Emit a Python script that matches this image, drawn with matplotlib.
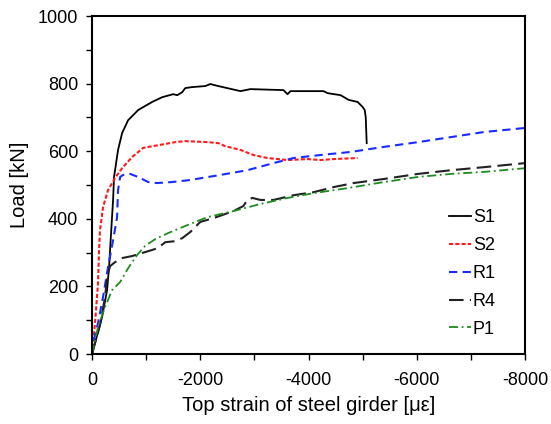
import matplotlib
matplotlib.use("Agg")
import matplotlib.pyplot as plt
from matplotlib.ticker import MultipleLocator

plt.rcParams['font.family'] = ['Liberation Sans', 'DejaVu Sans']
plt.rcParams['axes.unicode_minus'] = False

# strain [micro-strain], load [kN]
s1_strain = [0, -185, -278, -315, -352, -389, -407, -481, -556, -667, -852, -1111, -1296,
             -1500, -1574, -1667, -1722, -1852, -2093, -2185, -2333, -2741, -2926, -3537,
             -3611, -3667, -4278, -4352, -4593, -4741, -4907, -5000, -5037, -5056, -5074]
s1_load = [0, 109, 189, 257, 358, 456, 524, 604, 654, 692, 722, 746, 760,
           769, 766, 775, 787, 790, 793, 799, 793, 778, 784, 781,
           769, 778, 778, 772, 766, 752, 746, 731, 722, 701, 624]

s2_strain = [0, -56, -111, -130, -148, -204, -296, -426, -556, -741, -944, -1222, -1537,
             -1722, -2148, -2333, -2463, -2741, -2982, -3241, -3611, -3982, -4222, -4463, -4907]
s2_load = [0, 92, 210, 308, 367, 435, 485, 521, 550, 583, 610, 618, 627,
           630, 627, 624, 615, 604, 589, 580, 574, 577, 574, 577, 580]

r1_strain = [0, -19, -111, -204, -296, -389, -463, -481, -519, -574, -704, -852, -1037,
             -1204, -1482, -1815, -2370, -2870, -3352, -3722, -4222, -4778, -5389, -6019,
             -6630, -7241, -8000]
r1_load = [0, 33, 92, 169, 257, 337, 405, 485, 524, 530, 533, 524, 509,
           506, 509, 515, 530, 544, 565, 580, 589, 598, 613, 627,
           642, 657, 669]

r4_strain = [0, -148, -241, -278, -333, -426, -556, -741, -926, -1111, -1222, -1352, -1537,
             -1667, -1815, -2000, -2241, -2611, -2796, -2870, -2963, -3111, -3352, -3722,
             -4093, -4463, -4833, -5389, -6019, -6630, -7241, -8000]
r4_load = [0, 86, 169, 228, 260, 272, 284, 290, 299, 308, 314, 331, 334,
           343, 361, 391, 402, 423, 438, 456, 462, 456, 456, 470,
           479, 494, 506, 518, 533, 544, 553, 565]

p1_strain = [0, -111, -241, -370, -519, -667, -833, -981, -1167, -1407, -1722, -2130,
             -2611, -3111, -3611, -4093, -4722, -5278, -6019, -6630, -7241, -8000]
p1_load = [0, 80, 139, 189, 213, 254, 293, 320, 340, 358, 379, 405,
           423, 444, 462, 476, 491, 506, 524, 533, 539, 550]

fig = plt.figure(figsize=(5.51, 4.24), dpi=100)
ax = fig.add_axes([0.167, 0.165, 0.786, 0.797])

ax.plot(s1_strain, s1_load, color='black', lw=1.3, ls='-', label='S1')
ax.plot(s2_strain, s2_load, color='#ff1a1a', lw=1.5, ls=(0, (2, 1)), label='S2')
ax.plot(r1_strain, r1_load, color='#1a2bff', lw=1.5, ls=(0, (4, 2.5)), label='R1')
ax.plot(r4_strain, r4_load, color='#222222', lw=1.5, ls=(0, (7, 3)), label='R4')
ax.plot(p1_strain, p1_load, color='#1f8a1f', lw=1.3, ls=(0, (5, 2, 1, 2)), label='P1')

ax.set_xlim(0, -8000)
ax.set_ylim(0, 1000)
ax.xaxis.set_major_locator(MultipleLocator(2000))
ax.xaxis.set_minor_locator(MultipleLocator(1000))
ax.yaxis.set_major_locator(MultipleLocator(200))
ax.yaxis.set_minor_locator(MultipleLocator(100))
ax.tick_params(which='both', direction='out', length=4, width=1, labelsize=13)
ax.tick_params(axis='y', pad=6)
ax.tick_params(axis='x', pad=9)

for sp in ax.spines.values():
    sp.set_linewidth(1.5)

ax.set_xlabel('Top strain of steel girder [\u03bc\u03b5]', fontsize=14.5, labelpad=5)
ax.set_ylabel('Load [kN]', fontsize=14.5, labelpad=6)

ax.legend(loc='lower right', bbox_to_anchor=(0.97, 0.0), frameon=False, fontsize=13,
          handlelength=1.2, handletextpad=0.1, labelspacing=0.6)

fig.savefig('out.png', dpi=100)
